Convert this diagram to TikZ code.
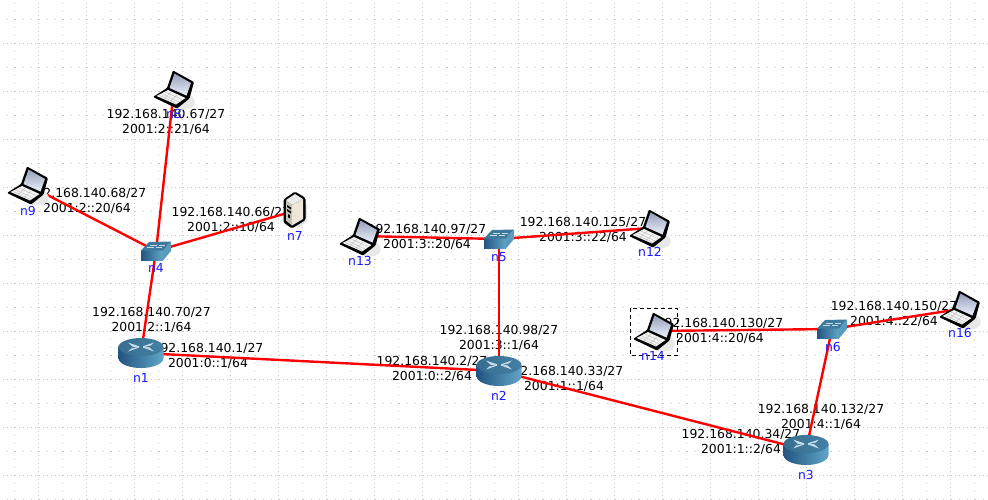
\documentclass[tikz,border=0pt]{standalone}
\usepackage{fontspec}
\setmainfont{DejaVu Sans}
\definecolor{linkred}{RGB}{255,0,0}
\definecolor{namecol}{RGB}{25,25,255}
\definecolor{griddot}{RGB}{200,200,200}
\definecolor{topblue}{RGB}{62,122,158}
\definecolor{darkblue}{RGB}{34,84,128}
\definecolor{lightblue}{RGB}{98,166,200}
\definecolor{iconline}{RGB}{200,220,232}
\definecolor{cream}{RGB}{238,230,216}
\definecolor{screenlo}{RGB}{235,240,252}
\definecolor{screenhi}{RGB}{150,160,185}
\tikzset{
  x=1pt,y=-1pt,
  hub/.style={shape=circle,inner sep=0pt,minimum size=0pt},
  link/.style={draw=linkred,line width=2.4pt},
  addr/.style={align=center,font=\fontsize{12.4}{15.4}\selectfont,text=black,inner sep=0pt},
  nm/.style={font=\fontsize{12.4}{15}\selectfont,text=namecol,inner sep=0pt},
  router/.pic={
    \path[left color=darkblue,right color=lightblue] (-22.5,-6) -- (-22.5,5) arc[start angle=180,end angle=0,x radius=22.5,y radius=10] -- (22.5,-6) -- cycle;
    \path[left color=topblue!90!black,right color=topblue!85!lightblue] (0,-6) ellipse[x radius=22.5,y radius=9];
    \fill[iconline] (-13,-10.5) -- (-2,-6.8) -- (-2,-5.4) -- (-13,-1.5) -- (-8,-6) -- cycle;
    \fill[iconline] (13,-10.5) -- (2,-6.8) -- (2,-5.4) -- (13,-1.5) -- (8,-6) -- cycle;
    \fill[topblue] (-9.5,-6) -- (-4,-6) -- (-9,-4.6) -- cycle (9.5,-6) -- (4,-6) -- (9,-7.4) -- cycle;
  },
  switch/.pic={
    \path[left color=darkblue,right color=lightblue] (-15,-0.5) rectangle (7,9.5);
    \fill[topblue] (-7,-9) -- (15,-9.5) -- (7,-0.5) -- (-15,-0.5) -- cycle;
    \fill[lightblue!75!topblue] (7,-0.5) -- (15,-9.5) -- (15,0) -- (7,9.5) -- cycle;
    \draw[iconline,line width=.6pt] (-6,-6) -- (1,-6) (3,-6) -- (9,-6) (-9,-3.5) -- (-2,-3.5) (0,-3.5) -- (6,-3.5);
  },
  laptop/.pic={
    \fill[black!9,rounded corners=4pt] (-6,12) -- (4,21) -- (16,20) -- (22,15) -- (19,7) -- (14,5) -- cycle;
    \fill[black,rounded corners=1pt] (-1,-18.5) -- (20,-7) -- (15.5,9.5) -- (3,19.5) -- (-21,8) -- (-7,-1) -- cycle;
    \path[top color=screenhi,bottom color=screenlo] (0.5,-15.5) -- (17,-6) -- (12.5,6.5) -- (-4.5,-1) -- cycle;
    \fill[black!5] (-6,1) -- (11.5,9) -- (2,15.5) -- (-17.5,7) -- cycle;
    \draw[black!28,line width=.35pt] (-9,3) -- (8,10.5) (-12,5) -- (5,13) (-14.5,6.5) -- (2.5,14.5) (-3,3) -- (-10,9.5) (3,6) -- (-4,12.5);
  },
  server/.pic={
    \fill[black!12] (9,-8) -- (13,-6) -- (13,10) -- (3,18) -- cycle;
    \fill[black,rounded corners=1.5pt] (1,-19.5) -- (11.5,-13) -- (11.5,9) -- (-2,17.5) -- (-10.5,11.5) -- (-10.5,-11.5) -- cycle;
    \fill[white!92!black] (-8,-11) -- (1,-17) -- (9,-12) -- (-2,-6) -- cycle;
    \fill[cream] (-2,-6) -- (9,-12) -- (9,8) -- (-2,14.5) -- cycle;
    \fill[cream!85!black] (-8,-11) -- (-2,-6) -- (-2,14.5) -- (-8,9.5) -- cycle;
    \fill[black] (-7,-6) -- (-3,-3.5) -- (-3,-1.5) -- (-7,-4) -- cycle (-7,-2) -- (-3,0.5) -- (-3,2.5) -- (-7,0) -- cycle (-6,3) -- (-4,4.3) -- (-4,7.5) -- (-6,6.2) -- cycle;
  },
}
\begin{document}
\begin{tikzpicture}
\useasboundingbox (0,0) rectangle (988,499);
\fill[white] (0,0) rectangle (988,499);
% grid of dots
\foreach \c in {0,...,40}{
  \pgfmathsetmacro{\gx}{14+24*\c}
  \pgfmathtruncatemacro{\maj}{mod(\c,2)==1}
  \foreach \r in {0,...,62}{
    \pgfmathsetmacro{\gy}{3+8*\r}
    \fill[griddot] (\gx,\gy) rectangle +(1,1);
  }
  \ifnum\maj=1
    \foreach \r in {0,...,62}{
      \pgfmathsetmacro{\gy}{7+8*\r}
      \fill[griddot] (\gx,\gy) rectangle +(1,1);
    }
  \fi
}
\foreach \r in {0,...,20}{
  \pgfmathsetmacro{\gy}{19+24*\r}
  \pgfmathtruncatemacro{\maj}{mod(\r,2)==1}
  \foreach \c in {0,...,123}{
    \pgfmathsetmacro{\gx}{7+8*\c}
    \fill[griddot] (\gx,\gy) rectangle +(1,1);
  }
  \ifnum\maj=1
    \foreach \c in {0,...,123}{
      \pgfmathsetmacro{\gx}{3+8*\c}
      \fill[griddot] (\gx,\gy) rectangle +(1,1);
    }
  \fi
}
% addresses
\node[addr] (a1) at (151.5,320) {192.168.140.70/27\\2001:2::1/64};
\node[addr] (a2) at (208,356) {192.168.140.1/27\\2001:0::1/64};
\node[addr] (a3) at (166,122) {192.168.140.67/27\\2001:2::21/64};
\node[addr] (a4) at (87,201) {192.168.140.68/27\\2001:2::20/64};
\node[addr] (a5) at (231,220) {192.168.140.66/27\\2001:2::10/64};
\node[addr] (a6) at (427,237) {192.168.140.97/27\\2001:3::20/64};
\node[addr] (a7) at (583,230) {192.168.140.125/27\\2001:3::22/64};
\node[addr] (a8) at (499,338) {192.168.140.98/27\\2001:3::1/64};
\node[addr] (a9) at (432,369) {192.168.140.2/27\\2001:0::2/64};
\node[addr] (a10) at (564,379) {192.168.140.33/27\\2001:1::1/64};
\node[addr] (a11) at (720,331) {192.168.140.130/27\\2001:4::20/64};
\node[addr] (a12) at (894,314) {192.168.140.150/27\\2001:4::22/64};
\node[addr] (a13) at (821,417) {192.168.140.132/27\\2001:4::1/64};
\node[addr] (a14) at (741,442) {192.168.140.34/27\\2001:1::2/64};
% device anchors
\node[hub] (n1) at (141,353) {};
\node[hub] (n2) at (499,371) {};
\node[hub] (n3) at (806,450) {};
\node[hub] (n4) at (156,251) {};
\node[hub] (n5) at (499,239) {};
\node[hub] (n6) at (832,329) {};
\node[hub] (n7) at (294,211) {};
\node[hub] (n8) at (174,89) {};
\node[hub] (n9) at (28,185) {};
\node[hub] (n12) at (650,228) {};
\node[hub] (n13) at (360,236) {};
\node[hub] (n14) at (654,331) {};
\node[hub] (n16) at (960,309) {};
% links
\draw[link] (n1) -- (n4);
\draw[link] (n1) -- (n2);
\draw[link] (n2) -- (n5);
\draw[link] (n2) -- (n3);
\draw[link] (n3) -- (n6);
\draw[link] (n4) -- (n7);
\draw[link] (n4) -- (n8);
\draw[link] (n4) -- (n9);
\draw[link] (n5) -- (n12);
\draw[link] (n5) -- (n13);
\draw[link] (n6) -- (n14);
\draw[link] (n6) -- (n16);
% icons
\pic at (n1) {router};
\pic at (n2) {router};
\pic at (n3) {router};
\pic at (n4) {switch};
\pic at (n5) {switch};
\pic at (n6) {switch};
\pic at (n7) {server};
\pic at (n8) {laptop};
\pic at (n9) {laptop};
\pic at (n12) {laptop};
\pic at (n13) {laptop};
\pic at (n14) {laptop};
\pic at (n16) {laptop};
% selection box
\draw[black,dash pattern=on 4pt off 3pt,line width=.8pt] (630,308) rectangle (677.5,355);
% names
\node[nm] (ln1) at (141,378) {n1};
\node[nm] (ln2) at (499,396) {n2};
\node[nm] (ln3) at (806,475) {n3};
\node[nm] (ln4) at (156,268) {n4};
\node[nm] (ln5) at (499,257) {n5};
\node[nm] (ln6) at (833,347) {n6};
\node[nm] (ln7) at (295,236) {n7};
\node[nm] (ln8) at (174,114) {n8};
\node[nm] (ln9) at (28,211) {n9};
\node[nm] (ln12) at (650,252) {n12};
\node[nm] (ln13) at (360,261) {n13};
\node[nm] (ln14) at (653,356) {n14};
\node[nm] (ln16) at (960,333) {n16};
\end{tikzpicture}
\end{document}
